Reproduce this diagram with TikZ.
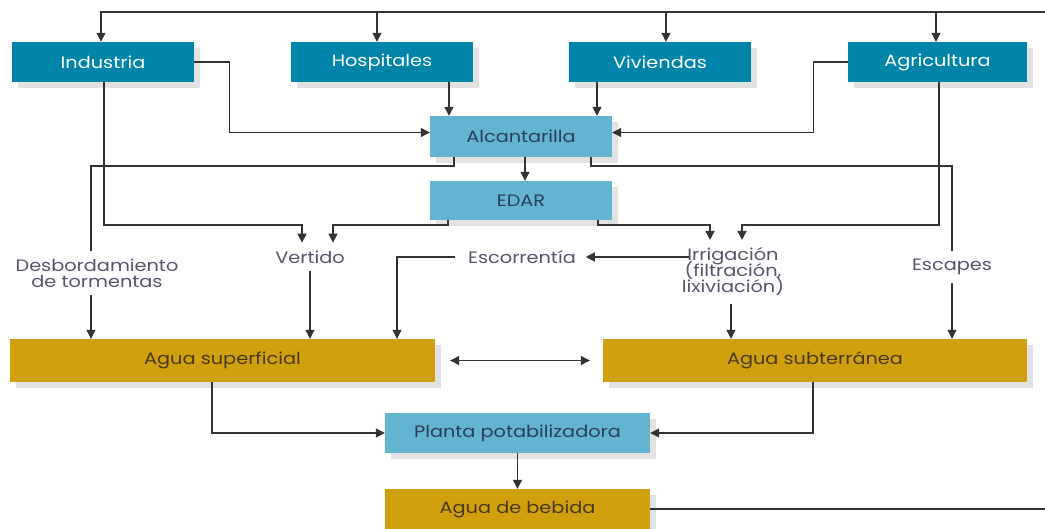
\documentclass[tikz,border=0pt]{standalone}
\usepackage{fontspec}
\setmainfont[FakeStretch=1.17]{Poppins}
\usetikzlibrary{arrows.meta,shadows}
\definecolor{dteal}{HTML}{0084A9}
\definecolor{lblue}{HTML}{63B4D1}
\definecolor{gold}{HTML}{D1A00E}
\definecolor{shade}{HTML}{E2E2E2}
\definecolor{navy}{HTML}{2E3D5C}
\definecolor{brownt}{HTML}{4A3A1A}
\definecolor{labelc}{HTML}{5A5468}
\definecolor{linec}{HTML}{333333}
\newcommand\tightlbl{\fontsize{16.5}{16}\selectfont\lineskiplimit=-20pt\relax}
\tikzset{
  boxbase/.style={rectangle, inner sep=0pt, font=\fontsize{16.5}{17}\selectfont,
    drop shadow={fill=shade, opacity=1, shadow xshift=6pt, shadow yshift=-6pt}},
  topbox/.style={boxbase, fill=dteal, text=white, minimum width=182pt, minimum height=40pt},
  midbox/.style={boxbase, fill=lblue, text=navy, minimum width=182pt, minimum height=40pt},
  goldbox/.style={boxbase, fill=gold, text=brownt, minimum height=43pt},
  lbl/.style={inner sep=0pt, outer xsep=0pt, outer ysep=8pt, align=center, text=labelc,
    font=\tightlbl},
  conn/.style={draw=linec, line width=1.2pt},
  arr/.style={conn, -{Triangle[length=9pt,width=9pt]}},
}
\begin{document}
\begin{tikzpicture}[x=1pt,y=-1pt]
\useasboundingbox[fill=white] (0,0) rectangle (1045,529);
% boxes
\node[topbox] (ind) at (103,62) {Industria};
\node[topbox] (hosp) at (382,62) {Hospitales};
\node[topbox] (viv) at (660,62) {Viviendas};
\node[topbox, minimum width=179pt] (agr) at (937.5,62) {Agricultura};
\node[midbox, minimum height=41pt] (alc) at (521,136.5) {Alcantarilla};
\node[midbox, minimum height=39pt] (edar) at (521,200.5) {EDAR};
\node[goldbox, minimum width=425pt] (sup) at (222.5,360.5) {Agua superficial};
\node[goldbox, minimum width=424pt] (sub) at (815,360.5) {Agua subterránea};
\node[midbox, minimum width=265pt, minimum height=40pt] (planta) at (517.5,433) {Planta potabilizadora};
\node[goldbox, minimum width=265pt, minimum height=40pt] (bebida) at (517.5,509) {Agua de bebida};
% labels
\node[lbl] (desb) at (97,273) {Desbordamiento\\de tormentas};
\node[lbl] (vert) at (310,257) {Vertido};
\node[lbl] (esc) at (522,257) {Escorrentía};
\node[lbl] (irr) at (733,272) {Irrigación\\(filtración,\\lixiviación)};
\node[lbl] (escp) at (952,267) {Escapes};
\coordinate (loopR) at (1050,12);
\coordinate (rowA) at (0,225);
\coordinate (rowB) at (0,166);
% top loop
\draw[arr] (bebida.east) -| (loopR) -- ([xshift=-2pt]ind.north |- loopR) -- ([xshift=-2pt]ind.north);
\draw[arr] ([xshift=-5pt]hosp.north |- loopR) -- ([xshift=-5pt]hosp.north);
\draw[arr] ([xshift=6pt]viv.north |- loopR) -- ([xshift=6pt]viv.north);
\draw[arr] ([xshift=-1.5pt]agr.north |- loopR) -- ([xshift=-1.5pt]agr.north);
% into alcantarilla
\draw[arr] (ind.east) -- ++(35,0) |- ([yshift=4pt]alc.west);
\draw[arr] (agr.west) -- ++(-34,0) |- ([yshift=4pt]alc.east);
\draw[arr] ([xshift=-72pt]alc.north |- hosp.south) -- ([xshift=-72pt]alc.north);
\draw[arr] ([xshift=76pt]alc.north |- viv.south) -- ([xshift=76pt]alc.north);
\draw[arr] ([xshift=4pt]alc.south) -- ([xshift=4pt]edar.north);
% overflows from alcantarilla
\draw[conn] ([xshift=-67pt]alc.south) |- ([xshift=-6pt]desb.north |- rowB) -- ([xshift=-6pt]desb.north);
\draw[conn] ([xshift=70pt]alc.south) |- (escp.north |- rowB) -- (escp.north);
% to vertido / irrigacion
\draw[arr] ([xshift=1pt]ind.south) |- ([xshift=-8pt]vert.north |- rowA) -- ([xshift=-8pt]vert.north);
\draw[arr] ([xshift=-73pt]edar.south) |- ([xshift=23pt]vert.north |- rowA) -- ([xshift=23pt]vert.north);
\draw[arr] ([xshift=77pt]edar.south) |- ([xshift=-23pt]irr.north |- rowA) -- ([xshift=-23pt]irr.north);
\draw[arr] ([xshift=1.5pt]agr.south) |- ([xshift=9pt]irr.north |- rowA) -- ([xshift=9pt]irr.north);
% labels to waters
\draw[arr] ([xshift=-6pt]desb.south) -- ([xshift=-6pt]desb.south |- sup.north);
\draw[arr] (vert.south) -- (vert.south |- sup.north);
\draw[arr] ([xshift=-13pt]esc.west) -| ([xshift=174.5pt]sup.north);
\draw[arr] ([xshift=7pt]esc.east -| irr.west) -- ([xshift=10pt]esc.east);
\draw[arr] ([xshift=-2pt]irr.south) -- ([xshift=-2pt]irr.south |- sub.north);
\draw[arr] (escp.south) -- (escp.south |- sub.north);
\draw[conn, {Triangle[length=9pt,width=9pt]}-{Triangle[length=9pt,width=9pt]}] ([xshift=15pt]sup.east) -- ([xshift=-13pt]sub.west);
% to planta
\draw[arr] ([xshift=-10.5pt]sup.south) |- (planta.west);
\draw[arr] ([xshift=-2pt]sub.south) |- (planta.east);
\draw[arr] (planta.south) -- (bebida.north);
\end{tikzpicture}
\end{document}
